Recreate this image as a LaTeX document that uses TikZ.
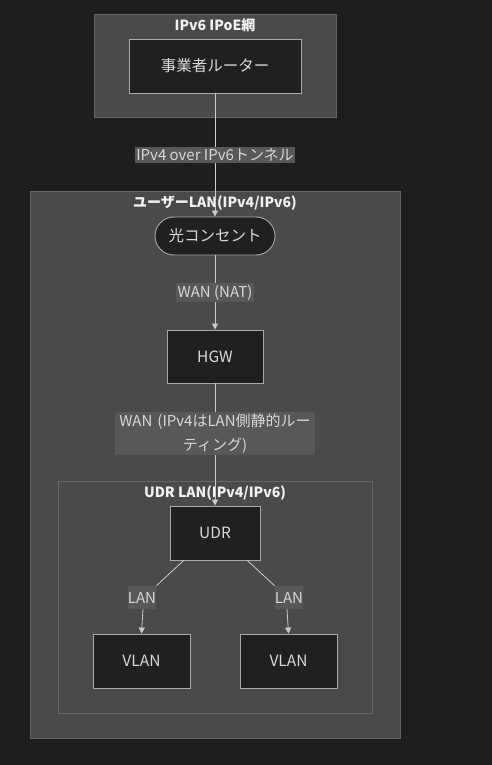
\documentclass[tikz,border=0pt]{standalone}
\usepackage{fontspec}
\setmainfont{Noto Sans CJK JP}
\usetikzlibrary{arrows.meta,calc}
\definecolor{bgc}{HTML}{1E1E1E}
\definecolor{clfill}{HTML}{4A4A4A}
\definecolor{cldraw}{HTML}{666666}
\definecolor{ndfill}{HTML}{1F2121}
\definecolor{nddraw}{HTML}{A8A8A8}
\definecolor{lbfill}{HTML}{585858}
\definecolor{edgec}{HTML}{CCCCCC}
\definecolor{ntext}{HTML}{D8D8D8}
\definecolor{ttext}{HTML}{F2F2F2}
\tikzset{
  cluster/.style={fill=clfill,draw=cldraw,line width=0.9pt},
  cltitle/.style={text=ttext,font=\fontsize{14}{16}\selectfont\bfseries,inner sep=0pt},
  box/.style={fill=ndfill,draw=nddraw,line width=0.9pt,text=ntext,font=\fontsize{15.5}{18}\selectfont,inner sep=0pt},
  lbl/.style={fill=lbfill,text=ntext,font=\fontsize{15}{24}\selectfont,inner sep=1.5pt,align=center},
  edge/.style={draw=edgec,line width=0.8pt},
  arr/.style={edge,-{Triangle[length=6pt,width=6pt]}},
}
\begin{document}
\begin{tikzpicture}[x=1pt,y=-1pt]
\useasboundingbox[fill=bgc] (0,0) rectangle (492,765);
% clusters
\draw[cluster] (94,14) rectangle (336,117);
\node[cltitle] (t1) at (215,25) {IPv6 IPoE網};
\draw[cluster] (30,191) rectangle (400,738);
\node[cltitle] (t2) at (215,203) {ユーザーLAN(IPv4/IPv6)};
\draw[cluster] (58,481) rectangle (372,713);
\node[cltitle] (t3) at (215,493) {UDR LAN(IPv4/IPv6)};
% nodes
\node[box,minimum width=172pt,minimum height=54pt] (rt) at (215,66) {事業者ルーター};
\node[box,rounded corners=19pt,minimum width=120pt,minimum height=38pt] (hk) at (215,236) {光コンセント};
\node[box,minimum width=96pt,minimum height=53pt] (hgw) at (215,356.5) {HGW};
\node[box,minimum width=90pt,minimum height=54pt] (udr) at (215,533) {UDR};
\node[box,minimum width=97pt,minimum height=54pt] (v1) at (141.5,661) {VLAN};
\node[box,minimum width=97pt,minimum height=54pt] (v2) at (288.5,661) {VLAN};
% edges
\draw[arr] (rt.south) -- (hk.north) node[lbl,pos=0.5] {IPv4 over IPv6トンネル};
\draw[arr] (hk.south) -- (hgw.north) node[lbl,pos=0.5] {WAN (NAT)};
\draw[arr] (hgw.south) -- (udr.north) node[lbl,pos=0.41,text width=196pt,inner sep=2pt] {WAN (IPv4はLAN側静的ルー\\ティング)};
\node[lbl,minimum width=28pt,minimum height=23pt,inner sep=0pt] (l1) at (142,597.5) {LAN};
\node[lbl,minimum width=28pt,minimum height=23pt,inner sep=0pt] (l2) at (289,597.5) {LAN};
\draw[edge] ($(udr.south west)!0.155!(udr.south east)$) -- (l1.north east);
\draw[arr] (l1.south) ++(1,0) .. controls +(-0.5,8) .. (v1.north);
\draw[edge] ($(udr.south west)!0.855!(udr.south east)$) -- (l2.north west);
\draw[arr] (l2.south) ++(-2,0) .. controls +(0.5,8) .. (v2.north);
\end{tikzpicture}
\end{document}
